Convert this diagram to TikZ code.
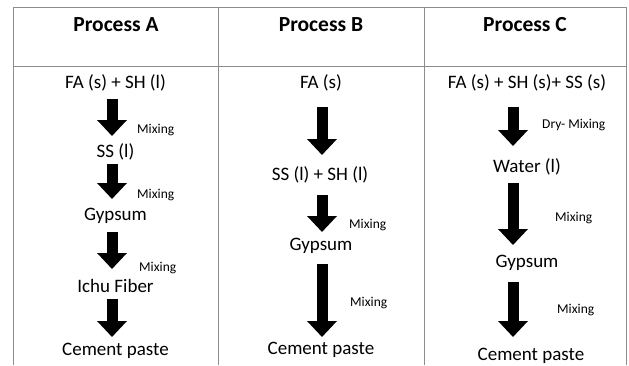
\documentclass[tikz,border=0pt]{standalone}
\usepackage{fontspec}
\setmainfont{Carlito}
\usetikzlibrary{arrows.meta}
\begin{document}
\begin{tikzpicture}[x=1pt,y=-1pt,
  grid/.style={draw=black!45,line width=0.9pt},
  head/.style={font=\fontsize{21.5}{24}\selectfont\bfseries,anchor=base,inner sep=0pt},
  item/.style={font=\fontsize{19}{22}\selectfont,anchor=base,inner sep=0pt},
  lbl/.style={font=\fontsize{13.5}{16}\selectfont,anchor=base west,inner sep=0pt},
  blockarrow/.style={line width=11pt,-{Triangle[width=29pt,length=16pt]}}]
\useasboundingbox (0,0) rectangle (629,365);
% table
\coordinate (tl) at (13,7);
\coordinate (tr) at (626,7);
\coordinate (hl) at (13,66);
\coordinate (hr) at (626,66);
\draw[grid] (13,365) -- (tl) -- (tr) -- (626,365);
\draw[grid] (hl) -- (hr);
\draw[grid] (218,7) -- (218,365);
\draw[grid] (424,7) -- (424,365);
% headers
\node[head] (hA) at (116,31.5) {Process A};
\node[head] (hB) at (321,31.5) {Process B};
\node[head] (hC) at (525,31.5) {Process C};
% Column A
\node[item] (a0) at (115.5,88) {FA (s) + SH (l)};
\node[item] (a1) at (115.5,157) {SS (l)};
\node[item] (a2) at (115.5,220) {Gypsum};
\node[item] (a3) at (115.5,292) {Ichu Fiber};
\node[item] (a4) at (115.5,355) {Cement paste};
\coordinate (a0s) at (112,99);  \coordinate (a0e) at (112,136);
\coordinate (a1s) at (112,164); \coordinate (a1e) at (112,199);
\coordinate (a2s) at (112,232); \coordinate (a2e) at (112,269);
\coordinate (a3s) at (112,299); \coordinate (a3e) at (112,337);
\draw[blockarrow] (a0s) -- (a0e);
\draw[blockarrow] (a1s) -- (a1e);
\draw[blockarrow] (a2s) -- (a2e);
\draw[blockarrow] (a3s) -- (a3e);
\node[lbl] (ma1) at (137,133) {Mixing};
\node[lbl] (ma2) at (137,198) {Mixing};
\node[lbl] (ma3) at (139,271) {Mixing};
% Column B
\node[item] (b0) at (321,88) {FA (s)};
\node[item] (b1) at (320,180) {SS (l) + SH (l)};
\node[item] (b2) at (321,250) {Gypsum};
\node[item] (b3) at (321,354) {Cement paste};
\coordinate (b0s) at (322,107); \coordinate (b0e) at (322,155);
\coordinate (b1s) at (322,195); \coordinate (b1e) at (322,232);
\coordinate (b2s) at (322,264); \coordinate (b2e) at (322,337);
\draw[blockarrow] (b0s) -- (b0e);
\draw[blockarrow] (b1s) -- (b1e);
\draw[blockarrow] (b2s) -- (b2e);
\node[lbl] (mb1) at (349,228) {Mixing};
\node[lbl] (mb2) at (350,306) {Mixing};
% Column C
\node[item] (c0) at (527,88) {FA (s) + SH (s)+ SS (s)};
\node[item] (c1) at (527,172) {Water (l)};
\node[item] (c2) at (527,267) {Gypsum};
\node[item] (c3) at (531,360) {Cement paste};
\coordinate (c0s) at (513,107); \coordinate (c0e) at (513,146);
\coordinate (c1s) at (513,183); \coordinate (c1e) at (513,245);
\coordinate (c2s) at (513,282); \coordinate (c2e) at (513,337);
\draw[blockarrow] (c0s) -- (c0e);
\draw[blockarrow] (c1s) -- (c1e);
\draw[blockarrow] (c2s) -- (c2e);
\node[lbl] (mc0) at (542,128) {Dry- Mixing};
\node[lbl] (mc1) at (555,221) {Mixing};
\node[lbl] (mc2) at (557,313) {Mixing};
\end{tikzpicture}
\end{document}
